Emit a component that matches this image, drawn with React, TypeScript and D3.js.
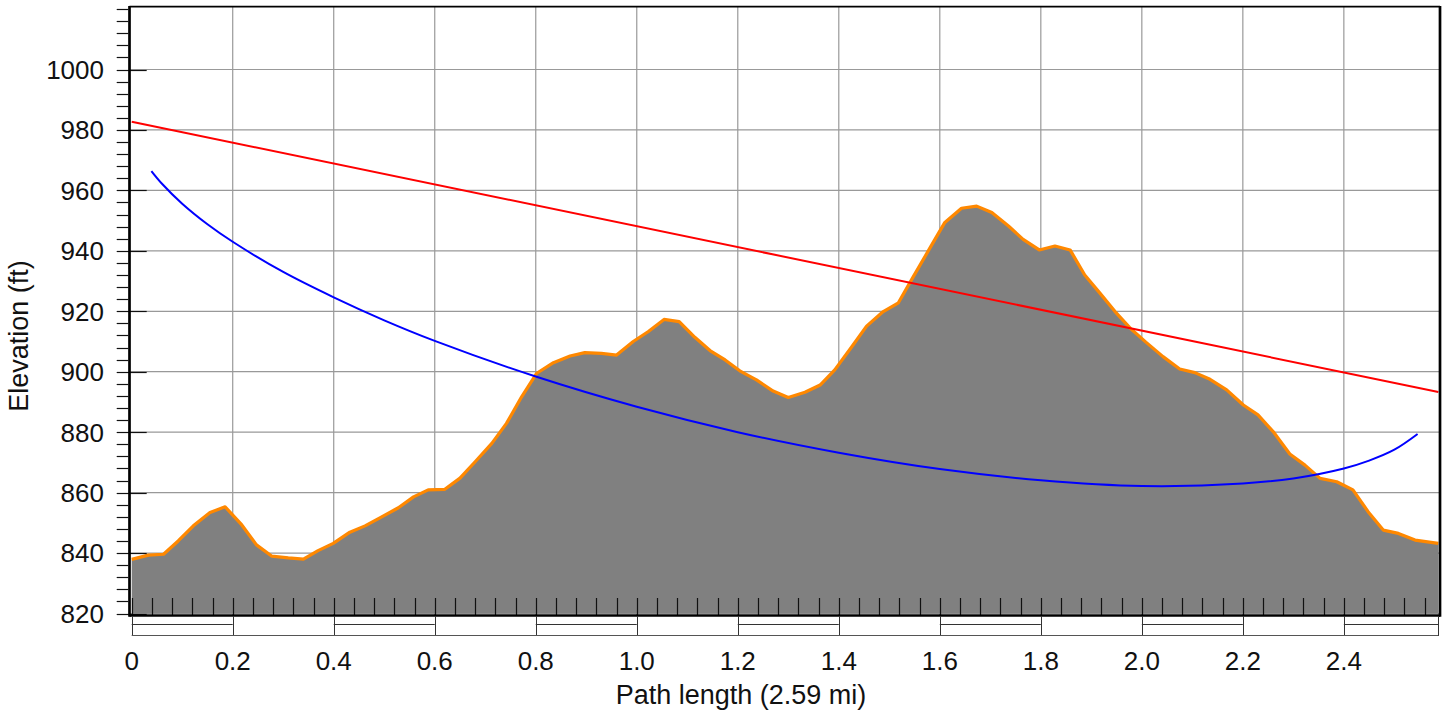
import React, { useRef, useEffect } from "react";
import * as d3 from "d3";

// terrain profile (distance in mi, elevation in ft)
const terrainDist = [
  0, 0.033, 0.063, 0.092, 0.122, 0.155, 0.185, 0.218, 0.247, 0.277, 0.31, 0.34,
  0.369, 0.399, 0.432, 0.462, 0.495, 0.528, 0.558, 0.587, 0.62, 0.65, 0.68, 0.713,
  0.742, 0.772, 0.802, 0.835, 0.868, 0.897, 0.93, 0.96, 0.993, 1.023, 1.054, 1.084,
  1.115, 1.145, 1.175, 1.204, 1.237, 1.27, 1.3, 1.333, 1.363, 1.392, 1.425, 1.455,
  1.488, 1.518, 1.547, 1.58, 1.61, 1.643, 1.673, 1.703, 1.736, 1.765, 1.797, 1.828,
  1.858, 1.887, 1.917, 1.947, 1.977, 2.008, 2.042, 2.075, 2.105, 2.135, 2.168, 2.201,
  2.23, 2.26, 2.293, 2.323, 2.353, 2.386, 2.418, 2.448, 2.478, 2.508, 2.541, 2.587
];
const terrainElev = [
  837.9, 839.3, 839.6, 844, 849, 853.4, 855.3, 849.3, 842.7, 839, 838.4, 838,
  840.8, 843.2, 846.9, 849, 852, 855, 858.6, 860.9, 861.1, 864.8, 870.2, 876.3,
  882.9, 891.7, 899.5, 903, 905.2, 906.3, 906.1, 905.5, 910, 913.3, 917.3, 916.6,
  911.4, 907, 903.9, 900.3, 897.3, 893.6, 891.5, 893.2, 895.6, 900.6, 908.1, 915.1,
  919.9, 922.8, 931.3, 940.8, 949.4, 954.1, 954.8, 952.7, 948.2, 943.8, 940.3, 941.6,
  940.3, 932, 926, 919.9, 914.4, 909.8, 905, 900.9, 899.7, 897.5, 894, 889,
  885.7, 880.2, 872.8, 869.1, 864.7, 863.6, 860.9, 853.7, 847.6, 846.5, 844.3, 843.2
];

// line of sight
const losDist = [0, 2.587];
const losElev = [982.7, 893.3];

// lower (blue) clearance curve
const curveDist = [
  0.039, 0.06, 0.1, 0.15, 0.2, 0.3, 0.4, 0.5, 0.6, 0.8, 1.0, 1.2,
  1.4, 1.6, 1.8, 2.0, 2.2, 2.3, 2.4, 2.45, 2.5, 2.546
];
const curveElev = [
  966.4, 962.2, 955.6, 948.8, 943, 933, 924.6, 917, 910.2, 898.4, 888.4, 880,
  873.2, 867.8, 864.1, 862.2, 863, 864.7, 868, 870.6, 874.2, 879.4
];

const yMajorTicks = [820, 840, 860, 880, 900, 920, 940, 960, 980, 1000];
const xMajorTicks = [0, 0.2, 0.4, 0.6, 0.8, 1.0, 1.2, 1.4, 1.6, 1.8, 2.0, 2.2, 2.4];
const xTickLabels = ["0", "0.2", "0.4", "0.6", "0.8", "1.0", "1.2", "1.4", "1.6", "1.8", "2.0", "2.2", "2.4"];
const pathLength = 2.587;

const W = 1447;
const H = 714;
const FONT = "'Liberation Sans', Arial, sans-serif";

const App = () => {
  const svgRef = useRef<SVGSVGElement | null>(null);

  useEffect(() => {
    const svg = d3.select(svgRef.current);
    svg.selectAll("*").remove();

    const x = d3.scaleLinear().domain([0, pathLength]).range([131.7, 1438.3]);
    const y = d3.scaleLinear().domain([820, 1000]).range([613.5, 69.5]);

    const frameLeft = 129.5;
    const frameRight = 1440;
    const frameTop = 6.7;
    const frameBottom = 615.5;

    const minorY = d3.range(820, 1021, 4);
    const minorX = d3.range(0, pathLength, 0.04);

    // grid
    const grid = svg.append("g").attr("stroke", "#999").attr("stroke-width", 1.2);
    grid.selectAll(".gy")
      .data(yMajorTicks)
      .enter()
      .append("line")
      .attr("x1", frameLeft)
      .attr("x2", frameRight)
      .attr("y1", d => y(d))
      .attr("y2", d => y(d));
    grid.selectAll(".gx")
      .data(xMajorTicks.slice(1))
      .enter()
      .append("line")
      .attr("x1", d => x(d))
      .attr("x2", d => x(d))
      .attr("y1", frameTop)
      .attr("y2", frameBottom);

    const terrain = terrainDist.map((d, i) => [d, terrainElev[i]] as [number, number]);

    // terrain area
    const area = d3.area<[number, number]>()
      .x(d => x(d[0]))
      .y0(y(820))
      .y1(d => y(d[1]));
    svg.append("path")
      .datum(terrain)
      .attr("d", area)
      .attr("fill", "#808080");

    const line = d3.line<[number, number]>()
      .x(d => x(d[0]))
      .y(d => y(d[1]));

    svg.append("path")
      .datum(terrain)
      .attr("d", line)
      .attr("fill", "none")
      .attr("stroke", "#ff8800")
      .attr("stroke-width", 3.2)
      .attr("stroke-linejoin", "round");

    // line of sight
    svg.append("path")
      .datum(losDist.map((d, i) => [d, losElev[i]] as [number, number]))
      .attr("d", line)
      .attr("fill", "none")
      .attr("stroke", "#ff0000")
      .attr("stroke-width", 2);

    // blue curve
    const curveLine = d3.line<[number, number]>()
      .x(d => x(d[0]))
      .y(d => y(d[1]))
      .curve(d3.curveCatmullRom.alpha(0.5));
    svg.append("path")
      .datum(curveDist.map((d, i) => [d, curveElev[i]] as [number, number]))
      .attr("d", curveLine)
      .attr("fill", "none")
      .attr("stroke", "#0000ff")
      .attr("stroke-width", 2);

    // ticks
    const ticks = svg.append("g").attr("stroke", "#111").attr("stroke-width", 1.2);
    ticks.selectAll(".ty")
      .data(minorY)
      .enter()
      .append("line")
      .attr("x1", 116.7)
      .attr("x2", d => (d % 20 === 0 && d <= 1000 ? 146.7 : 128.3))
      .attr("y1", d => Math.round(y(d)) + 0.5)
      .attr("y2", d => Math.round(y(d)) + 0.5);
    ticks.selectAll(".tx")
      .data(minorX)
      .enter()
      .append("line")
      .attr("x1", d => Math.round(x(d)) + 0.5)
      .attr("x2", d => Math.round(x(d)) + 0.5)
      .attr("y1", 598)
      .attr("y2", frameBottom);

    // frame
    const frame = svg.append("g").attr("stroke", "#000");
    frame.append("line").attr("x1", frameLeft).attr("x2", frameRight)
      .attr("y1", frameTop).attr("y2", frameTop).attr("stroke-width", 1.7);
    frame.append("line").attr("x1", frameLeft).attr("x2", frameLeft)
      .attr("y1", frameTop - 0.8).attr("y2", frameBottom + 1.3).attr("stroke-width", 2.7);
    frame.append("line").attr("x1", frameRight).attr("x2", frameRight)
      .attr("y1", frameTop - 0.8).attr("y2", frameBottom + 1.3).attr("stroke-width", 2.7);
    frame.append("line").attr("x1", frameLeft).attr("x2", frameRight)
      .attr("y1", frameBottom).attr("y2", frameBottom).attr("stroke-width", 2.7);

    // scale strip below the plot
    const strip = svg.append("g").attr("stroke", "#333").attr("stroke-width", 1);
    const segs = xMajorTicks.map((d, i) => [d, i < xMajorTicks.length - 1 ? xMajorTicks[i + 1] : pathLength]);
    strip.selectAll(".seg")
      .data(segs.filter((_, i) => i % 2 === 0))
      .enter()
      .append("line")
      .attr("x1", d => x(d[0]))
      .attr("x2", d => x(d[1]))
      .attr("y1", 624.5)
      .attr("y2", 624.5);
    strip.selectAll(".sv")
      .data([...xMajorTicks, pathLength])
      .enter()
      .append("line")
      .attr("x1", d => Math.round(x(d)) + 0.5)
      .attr("x2", d => Math.round(x(d)) + 0.5)
      .attr("y1", 616)
      .attr("y2", 636);
    strip.append("line")
      .attr("x1", x(0)).attr("x2", x(pathLength))
      .attr("y1", 635.5).attr("y2", 635.5)
      .attr("stroke", "#555");

    // tick labels
    svg.append("g")
      .selectAll("text")
      .data(yMajorTicks)
      .enter()
      .append("text")
      .attr("x", 104)
      .attr("y", d => y(d))
      .attr("dy", "0.36em")
      .attr("text-anchor", "end")
      .style("font-family", FONT)
      .style("font-size", "26px")
      .attr("fill", "#111")
      .text(d => String(d));

    svg.append("g")
      .selectAll("text")
      .data(xMajorTicks)
      .enter()
      .append("text")
      .attr("x", d => x(d))
      .attr("y", 670)
      .attr("text-anchor", "middle")
      .style("font-family", FONT)
      .style("font-size", "26px")
      .attr("fill", "#111")
      .text((_, i) => xTickLabels[i]);

    // axis titles
    svg.append("text")
      .attr("transform", `translate(28, 336) rotate(-90)`)
      .attr("text-anchor", "middle")
      .style("font-family", FONT)
      .style("font-size", "27px")
      .attr("fill", "#111")
      .text("Elevation (ft)");

    svg.append("text")
      .attr("x", 741)
      .attr("y", 704)
      .attr("text-anchor", "middle")
      .style("font-family", FONT)
      .style("font-size", "27px")
      .attr("fill", "#111")
      .text("Path length (2.59 mi)");
  }, []);

  return (
    <div style={{ position: "absolute", left: 0, top: 0, width: W, height: H, background: "#fff" }}>
      <svg ref={svgRef} width={W} height={H} style={{ display: "block" }}></svg>
    </div>
  );
};

export default App;
